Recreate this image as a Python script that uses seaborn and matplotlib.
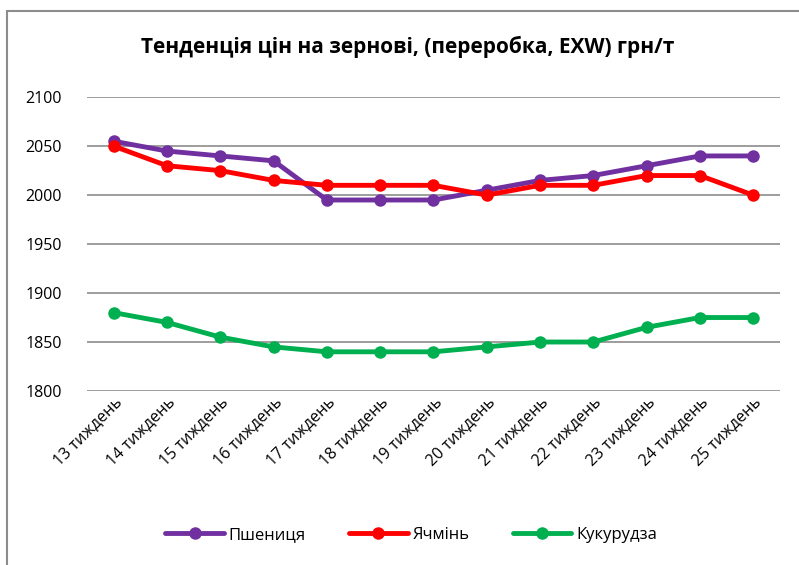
import pandas as pd
import numpy as np
import seaborn as sns
import matplotlib.pyplot as plt
from matplotlib.patches import Rectangle

# data
weeks = [f"{w} тиждень" for w in range(13, 26)]
wheat = [2055, 2045, 2040, 2035, 1995, 1995, 1995, 2005, 2015, 2020, 2030, 2040, 2040]
barley = [2050, 2030, 2025, 2015, 2010, 2010, 2010, 2000, 2010, 2010, 2020, 2020, 2000]
corn = [1880, 1870, 1855, 1845, 1840, 1840, 1840, 1845, 1850, 1850, 1865, 1875, 1875]
series_names = ["Пшениця", "Ячмінь", "Кукурудза"]
colors = ["#7030A0", "#FF0000", "#00B050"]

df = pd.DataFrame({"week": weeks * 3,
                   "price": wheat + barley + corn,
                   "crop": np.repeat(series_names, len(weeks))})

sns.set_style("white", {"text.color": "black", "xtick.color": "black", "ytick.color": "black"})
plt.rcParams['font.family'] = ['Open Sans', 'DejaVu Sans']

fig = plt.figure(figsize=(7.99, 5.65), dpi=100)
ax = fig.add_axes([0.109, 0.308, 0.867, 0.520])

sns.lineplot(data=df, x="week", y="price", hue="crop", palette=colors,
             marker="o", markersize=9, markeredgewidth=0, linewidth=3.5,
             sort=False, ax=ax)

ax.set_ylim(1800, 2100)
ax.set_yticks(range(1800, 2101, 50))
ax.set_xlim(-0.5, len(weeks) - 0.5)
ax.yaxis.grid(True, color="#8c8c8c", linewidth=1.2)
ax.set_axisbelow(True)
for s in ax.spines.values():
    s.set_visible(False)
ax.set_xlabel("")
ax.set_ylabel("")
ax.tick_params(axis="y", labelsize=11.5, pad=18, length=0, labelcolor="black")
ax.tick_params(axis="x", labelsize=11.5, length=0, pad=2, labelcolor="black")
ax.set_xticks(range(len(weeks)))
ax.set_xticklabels(weeks, rotation=45, ha="right", rotation_mode="anchor")

fig.text(0.51, 0.917, "Тенденція цін на зернові, (переробка, EXW) грн/т",
         ha="center", va="center", fontsize=15, fontweight="bold", color="black")

leg = ax.legend(loc="center", bbox_to_anchor=(0.468, -0.49), ncol=3, frameon=False,
                fontsize=12, handlelength=3.5, columnspacing=2.6, handletextpad=0.3)
for t in leg.get_texts():
    t.set_color("black")

# chart frame (left and top edges visible)
fig.patches.append(Rectangle((7 / 799, -0.1), 1.2, 1.1 - 11 / 565, transform=fig.transFigure,
                             fill=False, edgecolor="#8c8c8c", linewidth=1.5))

fig.savefig("out.png", dpi=100)
